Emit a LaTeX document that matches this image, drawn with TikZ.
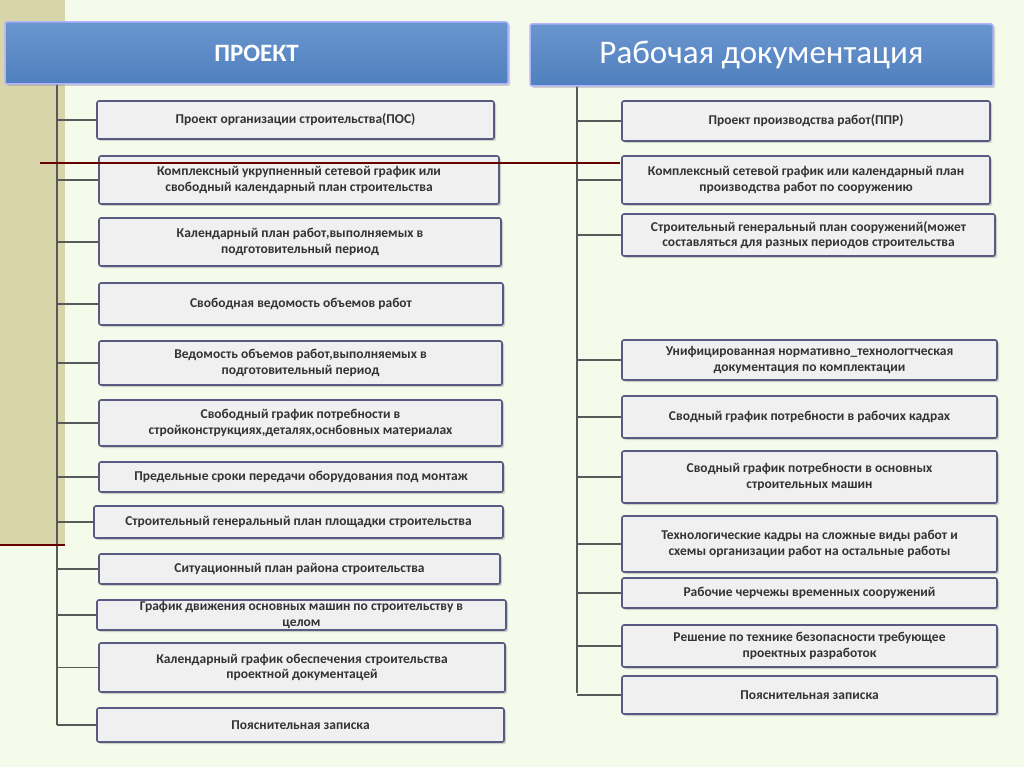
\documentclass[tikz,border=0pt]{standalone}
\usepackage{fontspec}
\setmainfont{Carlito}
\usetikzlibrary{shadows}
\definecolor{hdtop}{HTML}{6A96CF}
\definecolor{hdbot}{HTML}{4F7FBE}
\definecolor{strip}{HTML}{D9D5AA}
\begin{document}
\begin{tikzpicture}[x=1pt,y=-1pt,
 box/.style={draw=black!45!blue!30!gray,line width=1.6pt,fill=gray!12,rounded corners=2pt,
   align=center,font=\bfseries\fontsize{13.5}{15.5}\selectfont,text=black!80,inner sep=1pt,
   drop shadow={shadow xshift=2pt,shadow yshift=-2pt,opacity=0.35}},
 head/.style={draw=white!70!blue,line width=1.5pt,top color=hdtop,bottom color=hdbot,rounded corners=2pt,text=white,
   drop shadow={shadow xshift=2pt,shadow yshift=-2pt,opacity=0.35}},
 con/.style={draw=black!65,line width=1.2pt}]
\useasboundingbox (0,0) rectangle (1024,767);
\fill[yellow!4!white!96!green] (0,0) rectangle (1024,767);
\fill[strip] (0,0) rectangle (65,545);
\draw[con] (57,84) -- (57,725);
\draw[con] (577,86) -- (577,693);
\node[head,minimum width=503,minimum height=62,font=\bfseries\fontsize{25}{28}\selectfont] (h1) at (256.5,53) {ПРОЕКТ};
\node[head,minimum width=463,minimum height=62,font=\fontsize{33}{36}\selectfont] (h2) at (761.5,55) {Рабочая документация};
\foreach \n/\x/\y/\w/\h/\t in {
l1/295.5/120/397/38/{Проект организации строительства(ПОС)},
l2/299/180/400/48/{Комплексный укрупненный сетевой график или\\свободный календарный план строительства},
l3/300/242/402/48/{Календарный план работ,выполняемых в\\подготовительный период},
l4/301/304/404/42/{Свободная ведомость объемов работ},
l5/300.5/363/403/44/{Ведомость объемов работ,выполняемых в\\подготовительный период},
l6/300.5/423/403/46/{Свободный график потребности в\\стройконструкциях,деталях,оснбовных материалах},
l7/301/477/404/30/{Предельные сроки передачи оборудования под монтаж},
l8/298.5/522/409/32/{Строительный генеральный план площадки строительства},
l9/299.5/569/401/30/{Ситуационный план района строительства},
l10/301.5/615/409/30/{График движения основных машин по строительству в\\целом},
l11/302/667.5/406/49/{Календарный график обеспечения строительства\\проектной документацей},
l12/300.5/725/407/34/{Пояснительная записка}}{
 \node[box,minimum width=\w,minimum height=\h] (\n) at (\x,\y) {\t};
 \draw[con] (57,\y) -- (\n.west);
}
\foreach \n/\x/\y/\w/\h/\t in {
r1/806/121/368/40/{Проект производства работ(ППР)},
r2/806/180/368/48/{Комплексный сетевой график или календарный план\\производства работ по сооружению},
r3/808.5/235/373/42/{Строительный генеральный план сооружений(может\\составляться для разных периодов строительства},
r4/809.5/360/375/40/{Унифицированная нормативно\_технологтческая\\документация по комплектации},
r5/809.5/417/375/42/{Сводный график потребности в рабочих кадрах},
r6/809.5/477/375/52/{Сводный график потребности в основных\\строительных машин},
r7/809.5/544/375/56/{Технологические кадры на сложные виды работ и\\схемы организации работ на остальные работы},
r8/809.5/593/375/30/{Рабочие черчежы временных сооружений},
r9/809.5/646/375/42/{Решение по технике безопасности требующее\\проектных разработок},
r10/809.5/695/375/38/{Пояснительная записка}}{
 \node[box,minimum width=\w,minimum height=\h] (\n) at (\x,\y) {\t};
 \draw[con] (577,\y) -- (\n.west);
}
\draw[red!40!black,line width=1.2pt] (40,163) -- (620,163);
\draw[red!40!black,line width=1.5pt] (0,545) -- (65,545);
\end{tikzpicture}
\end{document}
